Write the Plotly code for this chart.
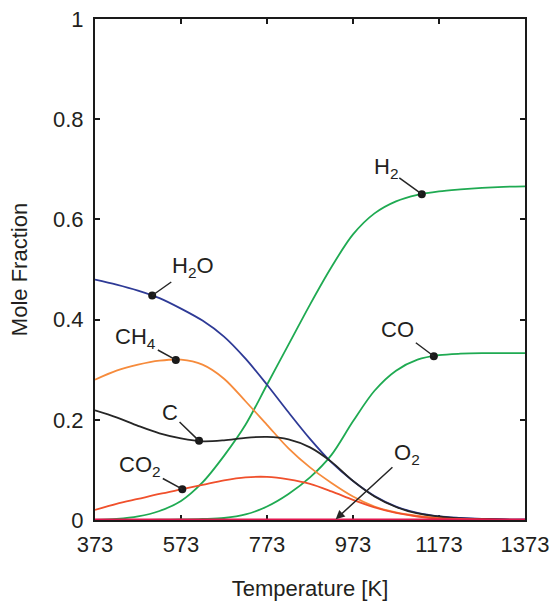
import numpy as np
import plotly.graph_objects as go

temperature = [373, 423, 473, 523, 573, 623, 673, 723, 773, 823, 873,
               923, 973, 1023, 1073, 1123, 1173, 1223, 1273, 1323, 1373]

h2 = [0.0, 0.002, 0.007, 0.018, 0.038, 0.075, 0.128, 0.19, 0.27, 0.35, 0.43,
      0.505, 0.57, 0.612, 0.636, 0.649, 0.656, 0.660, 0.663, 0.665, 0.666]
co = [0.0, 0.0, 0.0, 0.0005, 0.001, 0.002, 0.004, 0.011, 0.027, 0.052, 0.085,
      0.13, 0.197, 0.258, 0.298, 0.32, 0.329, 0.332, 0.333, 0.333, 0.333]
h2o = [0.48, 0.47, 0.458, 0.443, 0.422, 0.398, 0.366, 0.322, 0.27, 0.215, 0.162,
       0.115, 0.078, 0.048, 0.027, 0.014, 0.007, 0.004, 0.002, 0.001, 0.001]
ch4 = [0.28, 0.298, 0.31, 0.318, 0.32, 0.31, 0.282, 0.237, 0.19, 0.143, 0.105,
       0.074, 0.047, 0.027, 0.015, 0.008, 0.004, 0.002, 0.001, 0.0, 0.0]
carbon = [0.219, 0.205, 0.188, 0.173, 0.163, 0.157, 0.159, 0.164, 0.166, 0.161, 0.145,
          0.116, 0.078, 0.047, 0.026, 0.013, 0.007, 0.003, 0.002, 0.001, 0.0]
co2 = [0.02, 0.032, 0.042, 0.052, 0.061, 0.07, 0.079, 0.085, 0.086, 0.081, 0.072,
       0.057, 0.04, 0.025, 0.014, 0.007, 0.003, 0.002, 0.001, 0.0, 0.0]
o2 = [0.0] * 21

x_ticks = [373, 573, 773, 973, 1173, 1373]
y_ticks = [0, 0.2, 0.4, 0.6, 0.8, 1]

series = [
    ("H2", h2, "#1FAA52"),
    ("CO", co, "#1FAA52"),
    ("H2O", h2o, "#2E3A96"),
    ("CH4", ch4, "#F68B3C"),
    ("C", carbon, "#262626"),
    ("CO2", co2, "#F0502C"),
]

# label texts, temperature of the dot, label offset (pixels)
labels = [
    ("H<sub>2</sub>O", h2o, 506, 41, -29),
    ("CH<sub>4</sub>", ch4, 561, -40, -22),
    ("C", carbon, 615, -29, -28),
    ("CO<sub>2</sub>", co2, 576, -42, -23),
    ("H<sub>2</sub>", h2, 1133, -36, -26),
    ("CO", co, 1161, -36, -27),
]

FONT = "Liberation Sans, Arial, sans-serif"
INK = "#231F20"

fig = go.Figure()
for name, vals, color in series:
    fig.add_trace(go.Scatter(x=temperature, y=vals, mode="lines", name=name,
                             line=dict(color=color, width=1.8, shape="spline", smoothing=0.9),
                             showlegend=False))
fig.add_trace(go.Scatter(x=temperature, y=o2, mode="lines", name="O2", cliponaxis=False,
                         line=dict(color="#E2174F", width=2.8), showlegend=False))

dot_x = [t for _, _, t, _, _ in labels]
dot_y = [float(np.interp(t, temperature, v)) for _, v, t, _, _ in labels]
fig.add_trace(go.Scatter(x=dot_x, y=dot_y, mode="markers",
                         marker=dict(color="#1a1a1a", size=8), showlegend=False))

text_font = dict(family=FONT, size=22, color=INK)
for (txt, v, t, ax, ay), yy in zip(labels, dot_y):
    fig.add_annotation(x=t, y=yy, text=txt, showarrow=True, arrowhead=0,
                       arrowwidth=1.5, arrowcolor="#262626", ax=ax, ay=ay,
                       standoff=0, font=text_font)

fig.add_annotation(x=931, y=0, text="O<sub>2</sub>", showarrow=True, arrowhead=2,
                   arrowsize=1.2, arrowwidth=1.5, arrowcolor="#262626", ax=72, ay=-66,
                   standoff=1, font=text_font)

axis_common = dict(showline=True, linecolor="#1a1a1a", linewidth=2, mirror="ticks",
                   ticks="inside", ticklen=5, tickwidth=2, tickcolor="#1a1a1a",
                   showgrid=False, zeroline=False, layer="below traces", automargin=False,
                   tickfont=dict(family=FONT, size=22, color=INK))

fig.update_xaxes(range=[373, 1373], tickvals=x_ticks, ticktext=[str(v) for v in x_ticks],
                 ticklabelstandoff=4,
                 title=dict(text="Temperature [K]", standoff=24,
                            font=dict(family=FONT, size=22, color=INK)),
                 **axis_common)
fig.update_yaxes(range=[0, 1], tickvals=y_ticks, ticktext=["0", "0.2", "0.4", "0.6", "0.8", "1"],
                 ticklabelstandoff=5,
                 title=dict(text="Mole Fraction", standoff=19,
                            font=dict(family=FONT, size=22, color=INK)),
                 **axis_common)

fig.update_layout(width=553, height=601, margin=dict(l=95, r=28, t=19, b=81),
                  plot_bgcolor="white", paper_bgcolor="white")

fig.write_html("out.html")
